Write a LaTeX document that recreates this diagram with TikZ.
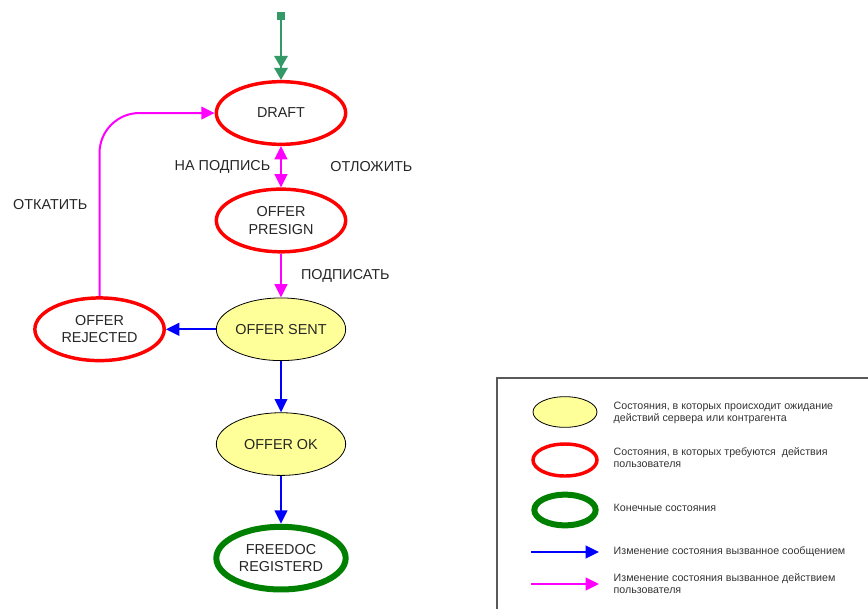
\documentclass[tikz,border=0pt]{standalone}
\usepackage{fontspec}
\setmainfont{Liberation Sans}
\usetikzlibrary{shapes.geometric, arrows.meta, positioning}

\definecolor{waitfill}{HTML}{FFFF99}
\definecolor{startgreen}{HTML}{339966}
\definecolor{finalgreen}{HTML}{008000}
\definecolor{usermagenta}{HTML}{FF00FF}
\definecolor{msgblue}{HTML}{0000FF}
\definecolor{userred}{HTML}{FF0000}

\begin{document}
\begin{tikzpicture}[
	  x=0.75pt, y=-0.75pt,
	  node distance=36pt,
	  waitstate/.style={ellipse, minimum width=97pt, minimum height=47pt, inner sep=0pt, align=center, draw=black, line width=0.6pt, fill=waitfill, text=black!85, font=\fontsize{10.8}{13}\selectfont},
	  userstate/.style={waitstate, draw=userred, line width=2.6pt, fill=white},
	  finalstate/.style={waitstate, draw=finalgreen, line width=4.5pt, fill=white},
	  startbox/.style={rectangle, minimum size=6pt, inner sep=0pt, fill=startgreen},
	  msgarrow/.style={line width=1.5pt, msgblue, -{Triangle[length=10pt, width=9.5pt]}},
	  userarrow/.style={msgarrow, usermagenta},
	  label/.style={text=black!85, font=\fontsize{10.8}{13}\selectfont},
	  legtext/.style={anchor=west, align=left, text=black!80, font=\fontsize{8}{9}\selectfont}
	]

	\useasboundingbox (0,0) rectangle (868,608);

	% states
	\node (draft) [userstate] at (281,113) {DRAFT};
	\node (start) [startbox, above=45pt of draft] {};
	\node (presign) [userstate, below=31pt of draft] {OFFER\\PRESIGN};
	\node (sent) [waitstate, below=33pt of presign] {OFFER SENT};
	\node (rejected) [userstate, left=37.5pt of sent] {OFFER\\REJECTED};
	\node (ok) [waitstate, below=38.5pt of sent] {OFFER OK};
	\node (freedoc) [finalstate, below=36pt of ok] {FREEDOC\\REGISTERD};

	% transitions
	\draw [line width=1.5pt, startgreen, -{Triangle[length=9pt, width=10pt]Triangle[length=9pt, width=10pt]}] (start) -- (draft);
	\draw [userarrow, {Triangle[length=10pt, width=9.5pt]}-{Triangle[length=10pt, width=9.5pt]}] (draft) -- node[label, left=4pt] {НА ПОДПИСЬ} node[label, right=33pt] {ОТЛОЖИТЬ} (presign);
	\draw [userarrow] (presign) -- node[label, right=11pt] {ПОДПИСАТЬ} (sent);
	\draw [msgarrow] (sent) -- (rejected);
	\draw [userarrow, rounded corners=30pt] (rejected.north) |- node[label, pos=0.25, left=5pt] {ОТКАТИТЬ} (draft.west);
	\draw [msgarrow] (sent) -- (ok);
	\draw [msgarrow] (ok) -- (freedoc);

	% legend
	\draw [line width=1.4pt, black!65] (497,612) |- (872,378);
	\node (legwait) [waitstate, minimum width=48pt, minimum height=23pt] at (565,412) {};
	\node (legwaittext) [legtext] at (609,413) {Состояния, в которых происходит ожидание\\действий сервера или контрагента};
	\node (leguser) [userstate, minimum width=48pt, minimum height=24pt] at (565,460) {};
	\node (legusertext) [legtext] at (609,458) {Состояния, в которых требуются\ \ действия\\пользователя};
	\node (legfinal) [finalstate, minimum width=46pt, minimum height=23pt] at (565,510) {};
	\node (legfinaltext) [legtext] at (609,508) {Конечные состояния};
	\coordinate (legmsgA) at (531,552);
	\coordinate (legmsgB) at (599,552);
	\draw [msgarrow] (legmsgA) -- (legmsgB);
	\node (legmsgtext) [legtext] at (609,552) {Изменение состояния вызванное сообщением};
	\coordinate (leguserA) at (531,584);
	\coordinate (leguserB) at (599,584);
	\draw [userarrow] (leguserA) -- (leguserB);
	\node (leguserarrowtext) [legtext] at (609,584) {Изменение состояния вызванное действием\\пользователя};

	\end{tikzpicture}
\end{document}
